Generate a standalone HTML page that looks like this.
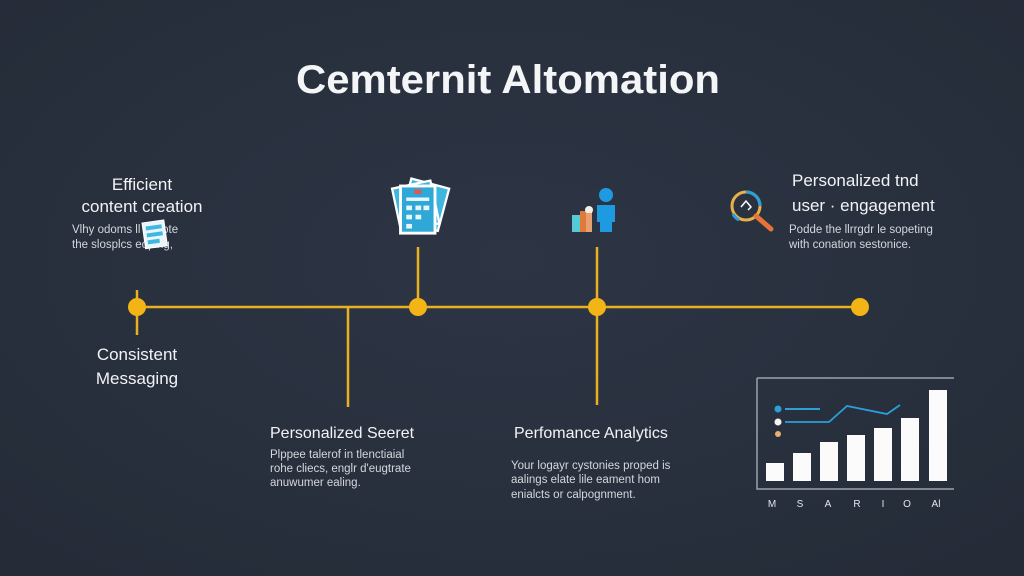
<!DOCTYPE html>
<html><head><meta charset="utf-8"><style>
html,body{margin:0;padding:0;background:#29313f;}
svg{display:block;font-family:"Liberation Sans",sans-serif;}
</style></head><body>
<svg width="1024" height="576" viewBox="0 0 1024 576" xmlns="http://www.w3.org/2000/svg">
<defs><radialGradient id="bg" cx="50%" cy="45%" r="70%"><stop offset="0" stop-color="#2d3545"/><stop offset="1" stop-color="#252c38"/></radialGradient></defs>
<rect width="1024" height="576" fill="url(#bg)"/>
<text x="508" y="93" text-anchor="middle" font-size="40" font-weight="bold" fill="#f4f5f7" textLength="424" lengthAdjust="spacingAndGlyphs">Cemternit Altomation</text>

<g stroke="#e9b020" stroke-width="2.5" fill="none">
<line x1="137" y1="307" x2="860" y2="307"/>
<line x1="137" y1="290" x2="137" y2="335"/>
<line x1="418" y1="247" x2="418" y2="307"/>
<line x1="348" y1="307" x2="348" y2="407"/>
<line x1="597" y1="247" x2="597" y2="405"/>
</g>
<g fill="#f2b515">
<circle cx="137" cy="307" r="9"/><circle cx="418" cy="307" r="9"/><circle cx="597" cy="307" r="9"/><circle cx="860" cy="307" r="9"/>
</g>

<g fill="#f2f3f5" font-size="17">
<text x="142" y="190" text-anchor="middle">Efficient</text>
<text x="142" y="212" text-anchor="middle">content creation</text>
<text x="137" y="360" text-anchor="middle">Consistent</text>
<text x="137" y="384" text-anchor="middle">Messaging</text>
<text x="270" y="438" font-size="16">Personalized Seeret</text>
<text x="514" y="438" font-size="16">Perfomance Analytics</text>
<text x="792" y="186">Personalized tnd</text>
<text x="792" y="211">user · engagement</text>
</g>
<g fill="#d4d7dc" font-size="11.5">
<text x="72" y="233">Vlhy odoms     ll  tal tote</text>
<text x="72" y="248">the slosplcs         eoping,</text>
<text x="270" y="458">Plppee talerof in tlenctiaial</text>
<text x="270" y="472">rohe cliecs, englr d'eugtrate</text>
<text x="270" y="486">anuwumer ealing.</text>
<text x="511" y="469">Your logayr cystonies proped is</text>
<text x="511" y="483">aalings elate lile eament hom</text>
<text x="511" y="498">enialcts or calpognment.</text>
<text x="789" y="233">Podde the llrrgdr le sopeting</text>
<text x="789" y="248">with conation sestonice.</text>
</g>

<g transform="translate(142,223) rotate(-8)">
<rect x="0" y="0" width="22" height="26" fill="#eaf6fb" stroke="#fff"/>
<rect x="3" y="4" width="16" height="4" fill="#3fb7e0"/><rect x="3" y="11" width="16" height="4" fill="#3fb7e0"/><rect x="3" y="18" width="12" height="4" fill="#3fb7e0"/>
</g>

<g transform="translate(389,186) scale(1.15)">
<rect x="14" y="-3" width="34" height="38" fill="#3fb6df" stroke="#fff" stroke-width="2" transform="rotate(15 30 16)"/>
<rect x="6" y="-2" width="34" height="38" fill="#3fb6df" stroke="#fff" stroke-width="2" transform="rotate(-12 25 16)"/>
<rect x="10" y="0" width="30" height="41" fill="#2fa8d8" stroke="#fff" stroke-width="2.5"/>
<rect x="22" y="3" width="6" height="4" fill="#e25555"/>
<g fill="#e7f6fb"><rect x="15" y="10" width="20" height="3"/><rect x="15" y="17" width="5" height="4"/><rect x="23" y="17" width="5" height="4"/><rect x="30" y="17" width="5" height="4"/><rect x="15" y="25" width="5" height="4"/><rect x="23" y="25" width="5" height="4"/><rect x="15" y="33" width="5" height="4"/></g>
</g>

<g>
<rect x="572" y="215" width="8" height="17" fill="#56c9d5"/>
<rect x="580" y="211" width="6" height="21" fill="#e07a3a"/>
<circle cx="589" cy="210" r="4" fill="#f3f0ea"/>
<rect x="586" y="213" width="6" height="19" fill="#e8a070"/>
<circle cx="606" cy="195" r="7" fill="#1e9be0"/>
<path d="M597 205 h18 v17 h-3 v10 h-12 v-10 h-3z" fill="#1e9be0"/>
</g>

<g fill="none">
<circle cx="746" cy="206" r="14" stroke="#e7b14a" stroke-width="3"/>
<path d="M746 192 a14 14 0 0 1 14 14" stroke="#2a9fd8" stroke-width="3"/>
<path d="M733 214 a14 14 0 0 0 6 6" stroke="#2a9fd8" stroke-width="3"/>
<line x1="756" y1="216" x2="771" y2="229" stroke="#e8733a" stroke-width="5" stroke-linecap="round"/>
<path d="M741 207 l5 -6 l5 6 l-3 3" stroke="#fff" stroke-width="1.5"/>
</g>

<g>
<path d="M757 378 H954 M757 378 V489 H954" stroke="#9aa2ad" stroke-width="1.5" fill="none"/>
<g fill="#fbfbfb">
<rect x="766" y="463" width="18" height="18"/>
<rect x="793" y="453" width="18" height="28"/>
<rect x="820" y="442" width="18" height="39"/>
<rect x="847" y="435" width="18" height="46"/>
<rect x="874" y="428" width="18" height="53"/>
<rect x="901" y="418" width="18" height="63"/>
<rect x="929" y="390" width="18" height="91"/>
</g>
<circle cx="778" cy="409" r="3.5" fill="#2a9fd8"/>
<circle cx="778" cy="422" r="3.5" fill="#f4f4f4"/>
<circle cx="778" cy="434" r="3" fill="#e8b070"/>
<line x1="785" y1="409" x2="820" y2="409" stroke="#2a9fd8" stroke-width="2"/>
<polyline points="785,422 829,422 847,406 887,414 900,405" stroke="#2a9fd8" stroke-width="1.8" fill="none"/>
<g fill="#e4e6ea" font-size="10" text-anchor="middle">
<text x="772" y="507">M</text><text x="800" y="507">S</text><text x="828" y="507">A</text><text x="857" y="507">R</text><text x="883" y="507">I</text><text x="907" y="507">O</text><text x="936" y="507">Al</text>
</g>
</g>
</svg>
</body></html>
